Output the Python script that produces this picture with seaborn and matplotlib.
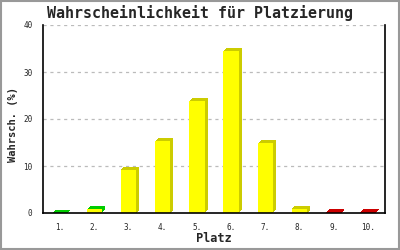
import matplotlib
matplotlib.use("Agg")
import matplotlib.pyplot as plt
import matplotlib.transforms as mtransforms
from matplotlib.patches import Rectangle
import seaborn as sns
import pandas as pd

categories = ["1.", "2.", "3.", "4.", "5.", "6.", "7.", "8.", "9.", "10."]
values = [0.1, 0.8, 9.2, 15.3, 23.9, 34.5, 14.8, 0.9, 0.3, 0.2]
front_colors = ["#00cc00", "#ffff00", "#ffff00", "#ffff00", "#ffff00",
                "#ffff00", "#ffff00", "#ffff00", "#ff0000", "#ff0000"]
side_colors = ["#00cc00", "#00cc00", "#cccc00", "#cccc00", "#cccc00",
               "#cccc00", "#cccc00", "#cccc00", "#cc0000", "#cc0000"]
y_ticks = [0, 10, 20, 30, 40]

df = pd.DataFrame({"Platz": categories, "Wert": values})

sns.set_theme(style="white")
mono = "DejaVu Sans Mono"

fig = plt.figure(figsize=(4, 2.5), dpi=100)
ax = fig.add_axes([43 / 400, 37 / 250, 342 / 400, 188 / 250])

# 3D depth: extrude the bars diagonally by up to 3 px
n_done = 0
for k in range(1, 7):
    sns.barplot(data=df, x="Platz", y="Wert", hue="Platz", palette=side_colors,
                legend=False, width=0.45, ax=ax, saturation=1, linewidth=0,
                edgecolor="none")
    shift = 0.5 * k / 100
    off = mtransforms.ScaledTranslation(shift, shift, fig.dpi_scale_trans)
    for p in ax.patches[n_done:]:
        p.set_transform(ax.transData + off)
        p.set_zorder(2)
    n_done = len(ax.patches)

sns.barplot(data=df, x="Platz", y="Wert", hue="Platz", palette=front_colors,
            legend=False, width=0.45, ax=ax, saturation=1, linewidth=0,
            edgecolor="none")
for p in ax.patches[n_done:]:
    p.set_zorder(3)

ax.set_ylim(0, 40)
ax.set_xlim(-0.5, len(categories) - 0.5)
ax.set_yticks(y_ticks)
ax.set_yticklabels([str(t) for t in y_ticks], fontfamily=mono, fontsize=5.5)
ax.set_xticks(range(len(categories)))
ax.set_xticklabels(categories, fontfamily=mono, fontsize=5.5)
ax.tick_params(axis="x", length=0, pad=7)
ax.tick_params(axis="y", direction="inout", length=9, width=1, color="black", pad=3)

for y in y_ticks[1:]:
    ax.axhline(y, color="#bbbbbb", linestyle=(0, (2.5, 3)), linewidth=0.9, zorder=1)

for side in ["left", "bottom", "right"]:
    ax.spines[side].set_visible(True)
    ax.spines[side].set_color("black")
    ax.spines[side].set_linewidth(1.2)
    ax.spines[side].set_zorder(5)
ax.spines["top"].set_visible(False)

ax.set_xlabel("")
ax.set_ylabel("")
fig.text(214 / 400, 1 - 239 / 250, "Platz", fontfamily=mono, fontweight="bold",
         fontsize=8.6, ha="center", va="center")
fig.text(13 / 400, 1 - 124 / 250, "Wahrsch. (%)", fontfamily=mono, fontweight="bold",
         fontsize=7.5, ha="center", va="center", rotation=90)
fig.text(200 / 400, 1 - 13 / 250, "Wahrscheinlichkeit für Platzierung", fontfamily=mono,
         fontweight="bold", fontsize=10.8, ha="center", va="center")

fig.patches.append(Rectangle((0.002, 0.003), 0.995, 0.993, transform=fig.transFigure,
                             fill=False, edgecolor="#999999", linewidth=1.5))

fig.savefig("out.png", dpi=100)
